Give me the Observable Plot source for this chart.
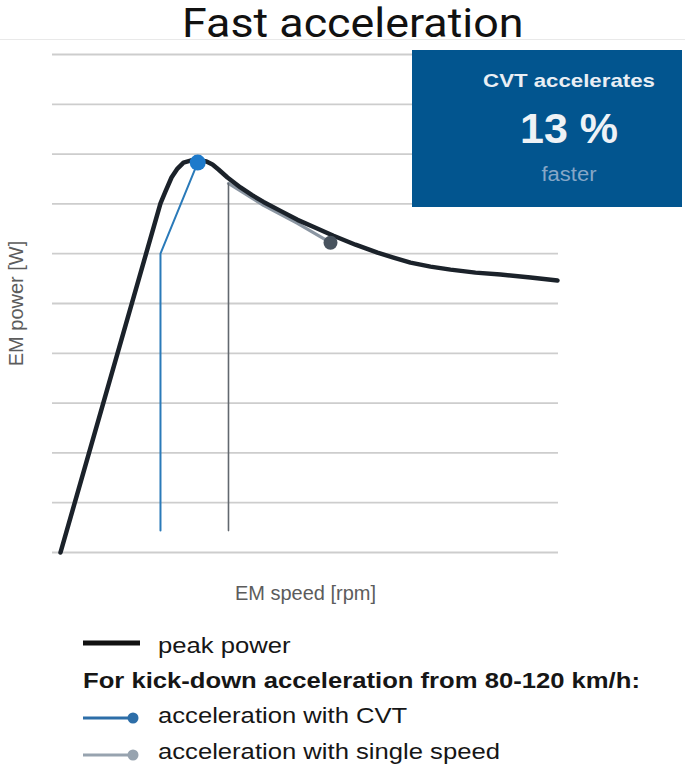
<!DOCTYPE html>
<html>
<head>
<meta charset="utf-8">
<script src="https://cdn.jsdelivr.net/npm/d3@7"></script>
<script src="https://cdn.jsdelivr.net/npm/@observablehq/plot@0.6"></script>
<style>
  html, body { margin: 0; padding: 0; background: #fff; }
  #wrap { position: relative; width: 685px; height: 770px; overflow: hidden; font-family: "Liberation Sans", Arial, sans-serif; }
  #rule { position: absolute; left: 0; top: 39px; width: 685px; height: 0; border-bottom: 1px solid #e9e9e9; }
  #title { position: absolute; left: 182px; top: 0; font-family: Roboto, "Liberation Sans", sans-serif; font-size: 40px; color: #111; white-space: nowrap; transform: scaleX(1.12); transform-origin: left center; }
  #chart { position: absolute; left: 0; top: 45px; }
  #box { position: absolute; left: 412px; top: 50px; width: 270px; height: 157px; background: #02558f; }
  .bt { position: absolute; left: 57px; width: 200px; text-align: center; white-space: nowrap; transform-origin: center center; }
  #legend { position: absolute; left: 0; top: 620px; width: 685px; height: 150px; }
  .lg { position: absolute; white-space: nowrap; color: #161616; font-size: 22px; transform: scaleX(1.165); transform-origin: left center; }
</style>
</head>
<body>
<div id="wrap">
  <div id="rule"></div>
  <div id="title">Fast acceleration</div>
  <div id="chart"></div>
  <div id="box">
    <div class="bt" style="top:20px;font-size:19px;font-weight:bold;color:#e9eef4;transform:scaleX(1.17);">CVT accelerates</div>
    <div class="bt" style="top:54px;font-size:43px;font-weight:bold;color:#eef2f6;">13 %</div>
    <div class="bt" style="top:113px;font-size:20px;color:#86a7c7;transform:scaleX(1.1);">faster</div>
  </div>
  <div id="legend"></div>
</div>
<script>
// ---- data (arbitrary units: x = EM speed, y = EM power) ----
const gridTicks = [0, 1, 2, 3, 4, 5, 6, 7, 8, 9, 10];

const peakX = [1.58, 21.34, 22.33, 23.52, 24.70, 25.89, 27.27, 28.85, 30.43, 31.62, 32.81, 34.58, 37.15, 39.53, 41.70, 45.06, 48.42, 51.98, 55.53, 59.88, 64.23, 67.39, 70.75, 74.70, 78.66, 83.60, 88.54, 94.47, 99.80];
const peakY = [0.00, 7.01, 7.25, 7.53, 7.71, 7.83, 7.87, 7.88, 7.85, 7.79, 7.69, 7.53, 7.33, 7.17, 7.04, 6.86, 6.68, 6.52, 6.36, 6.18, 6.02, 5.92, 5.82, 5.74, 5.68, 5.62, 5.58, 5.52, 5.46];

const cvtX = [21.34, 21.34, 28.7];
const cvtY = [0.44, 6.0, 7.83];

const singleVertX = [34.78, 34.78];
const singleVertY = [0.44, 7.41];
const singleCurveX = [34.78, 37.15, 41.70, 48.42, 54.94];
const singleCurveY = [7.41, 7.26, 6.97, 6.61, 6.22];

const axisLabels = { x: "EM speed [rpm]", y: "EM power [W]" };
const legendItems = ["peak power", "For kick-down acceleration from 80-120 km/h:", "acceleration with CVT", "acceleration with single speed"];

const toPts = (xs, ys) => xs.map((x, i) => ({ x, y: ys[i] }));
const peak = toPts(peakX, peakY);
const cvt = toPts(cvtX, cvtY);
const sVert = toPts(singleVertX, singleVertY);
const sCurve = toPts(singleCurveX, singleCurveY);

const chart = Plot.plot({
  width: 685,
  height: 570,
  marginLeft: 52,
  marginRight: 127,
  marginTop: 9,
  marginBottom: 63,
  x: { domain: [0, 100], axis: null },
  y: { domain: [0, 10], axis: null },
  style: { background: "transparent", fontFamily: "Liberation Sans, Arial, sans-serif" },
  marks: [
    Plot.ruleY(gridTicks, { stroke: "#cdcdcd", strokeWidth: 1.8 }),
    Plot.line(sCurve, { x: "x", y: "y", stroke: "#8b96a2", strokeWidth: 3.2 }),
    Plot.line(sVert, { x: "x", y: "y", stroke: "#62686f", strokeWidth: 1.6 }),
    Plot.line(cvt, { x: "x", y: "y", stroke: "#2a7ab9", strokeWidth: 2 }),
    Plot.line(peak, { x: "x", y: "y", stroke: "#1b222a", strokeWidth: 4.5, strokeLinecap: "round", strokeLinejoin: "round" }),
    Plot.dot([sCurve[sCurve.length - 1]], { x: "x", y: "y", r: 7, fill: "#48535e" }),
    Plot.dot([cvt[cvt.length - 1]], { x: "x", y: "y", r: 8, fill: "#1e7acb" }),
    Plot.text([axisLabels.x], { frameAnchor: "bottom", dy: 47, lineAnchor: "bottom", fontSize: 20, fill: "#5c5c5c", text: d => d }),
    Plot.text([axisLabels.y], { frameAnchor: "left", textAnchor: "middle", dx: -36, rotate: -90, fontSize: 20, fill: "#5c5c5c", text: d => d })
  ]
});
document.getElementById("chart").appendChild(chart);

// ---- legend ----
const lg = document.getElementById("legend");
const ns = "http://www.w3.org/2000/svg";
const sw = document.createElementNS(ns, "svg");
sw.setAttribute("width", 685); sw.setAttribute("height", 150);
sw.style.position = "absolute"; sw.style.left = "0"; sw.style.top = "0";
const swatches = [
  { y: 23, stroke: "#111", w: 5, dot: null },
  { y: 98, stroke: "#2d6ea8", w: 3, dot: "#2d6ea8" },
  { y: 135, stroke: "#97a3af", w: 3, dot: "#97a3af" }
];
swatches.forEach(s => {
  const l = document.createElementNS(ns, "line");
  l.setAttribute("x1", 83); l.setAttribute("x2", s.dot ? 133 : 140);
  l.setAttribute("y1", s.y); l.setAttribute("y2", s.y);
  l.setAttribute("stroke", s.stroke); l.setAttribute("stroke-width", s.w);
  sw.appendChild(l);
  if (s.dot) {
    const c = document.createElementNS(ns, "circle");
    c.setAttribute("cx", 133); c.setAttribute("cy", s.y); c.setAttribute("r", 5.5);
    c.setAttribute("fill", s.dot);
    sw.appendChild(c);
  }
});
lg.appendChild(sw);
const rows = [
  { t: legendItems[0], x: 158, top: 13, bold: false },
  { t: legendItems[1], x: 83, top: 48, bold: true },
  { t: legendItems[2], x: 158, top: 83, bold: false },
  { t: legendItems[3], x: 158, top: 119, bold: false }
];
rows.forEach(r => {
  const d = document.createElement("div");
  d.className = "lg";
  d.textContent = r.t;
  d.style.left = r.x + "px";
  d.style.top = r.top + "px";
  if (r.bold) d.style.fontWeight = "bold";
  lg.appendChild(d);
});
</script>
</body>
</html>
